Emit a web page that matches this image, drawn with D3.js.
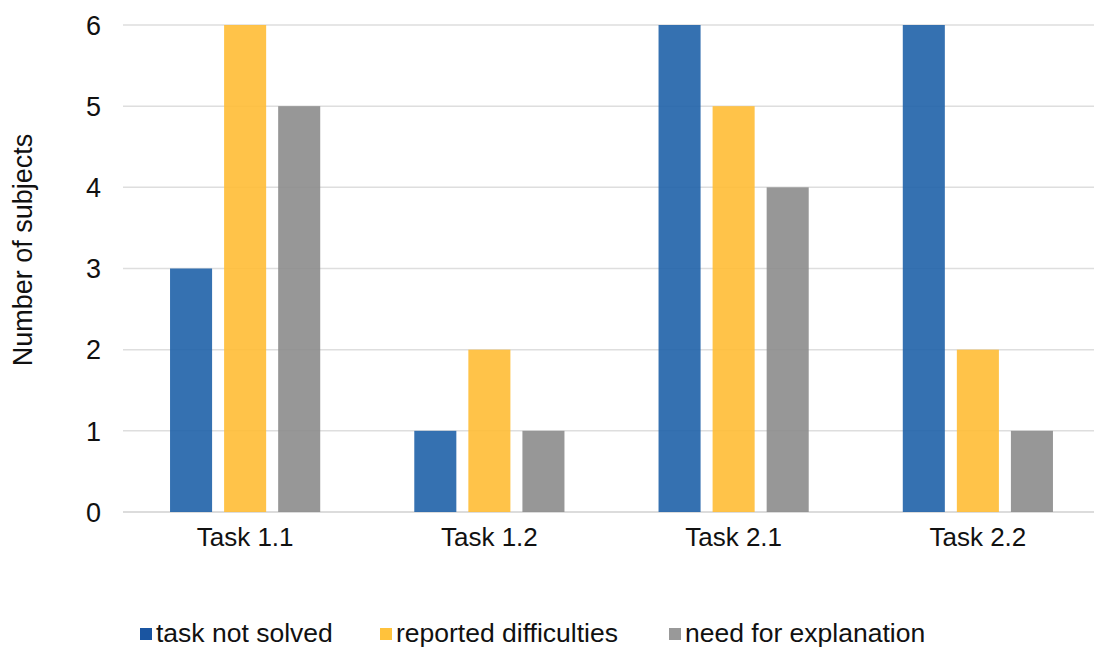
<!DOCTYPE html>
<html>
<head>
<meta charset="utf-8">
<script src="https://cdn.jsdelivr.net/npm/d3@7"></script>
<style>
  body { margin: 0; background: #fff; }
  svg { display: block; font-family: "Liberation Sans", Arial, Helvetica, sans-serif; }
</style>
</head>
<body>
<svg id="chart" width="1094" height="647"></svg>
<script>
// Survey results per task
const categories = ["Task 1.1", "Task 1.2", "Task 2.1", "Task 2.2"];
const seriesNames = ["task not solved", "reported difficulties", "need for explanation"];
const taskNotSolved = [3, 1, 6, 6];
const reportedDifficulties = [6, 2, 5, 2];
const needForExplanation = [5, 1, 4, 1];
const yTicks = [0, 1, 2, 3, 4, 5, 6];

const seriesValues = [taskNotSolved, reportedDifficulties, needForExplanation];
const barColors = ["#1f62a9", "#ffbd35", "#8c8c8c"];
const legendColors = ["#1a55a1", "#ffc23c", "#999999"];

const svg = d3.select("#chart");
const plot = { left: 123, right: 1100, top: 25, bottom: 512 };

const x0 = d3.scaleBand().domain(categories).range([plot.left, plot.right]).padding(0);
const x1 = d3.scaleBand().domain(seriesNames).range([0, x0.bandwidth()])
  .paddingInner(0.2222).paddingOuter(0.87);
const y = d3.scaleLinear().domain([0, 6]).range([plot.bottom, plot.top]);

// Horizontal gridlines
svg.append("g").selectAll("line").data(yTicks).join("line")
  .attr("x1", plot.left).attr("x2", plot.right)
  .attr("y1", d => y(d)).attr("y2", d => y(d))
  .attr("stroke", d => d === 0 ? "#d0d0d0" : "#dedede")
  .attr("stroke-width", 1.5);

// Y tick labels
svg.append("g").selectAll("text").data(yTicks).join("text")
  .attr("x", 101).attr("y", d => y(d))
  .attr("dy", "0.36em")
  .attr("text-anchor", "end")
  .attr("font-size", 27)
  .attr("fill", "#111")
  .text(d => d);

// Bars
const groups = svg.append("g").selectAll("g").data(categories).join("g")
  .attr("transform", c => `translate(${x0(c)},0)`);
groups.selectAll("rect")
  .data((c, i) => seriesNames.map((s, j) => ({ s, j, v: seriesValues[j][i] })))
  .join("rect")
  .attr("x", d => x1(d.s))
  .attr("width", x1.bandwidth())
  .attr("y", d => y(d.v))
  .attr("height", d => y(0) - y(d.v))
  .attr("fill", d => barColors[d.j])
  .attr("fill-opacity", 0.9);

// Category labels
svg.append("g").selectAll("text").data(categories).join("text")
  .attr("x", c => x0(c) + x0.bandwidth() / 2)
  .attr("y", 546)
  .attr("text-anchor", "middle")
  .attr("font-size", 26)
  .attr("fill", "#111")
  .text(c => c);

// Y axis title
svg.append("text")
  .attr("transform", "translate(32,250) rotate(-90)")
  .attr("text-anchor", "middle")
  .attr("font-size", 27)
  .attr("fill", "#111")
  .text("Number of subjects");

// Legend
const legendX = [140, 380, 669];
const legend = svg.append("g").selectAll("g").data(seriesNames).join("g")
  .attr("transform", (d, i) => `translate(${legendX[i]},628)`);
legend.append("rect").attr("width", 12).attr("height", 12)
  .attr("fill", (d, i) => legendColors[i]);
legend.append("text").attr("x", 16).attr("y", 14)
  .attr("font-size", 26.5).attr("fill", "#111")
  .text(d => d);
</script>
</body>
</html>
